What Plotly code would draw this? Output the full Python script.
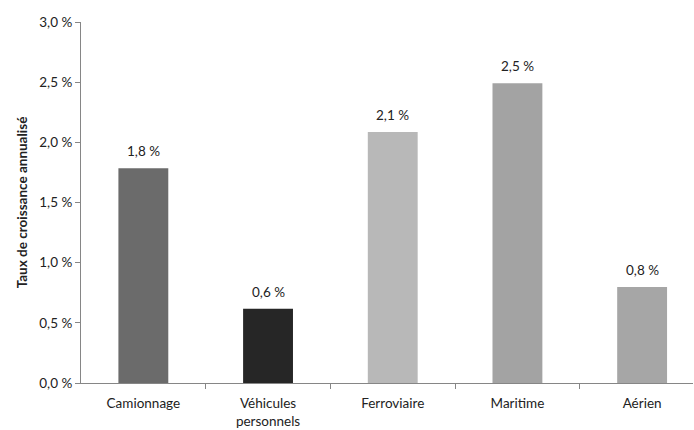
import plotly.graph_objects as go

categories = ["Camionnage", "Véhicules<br>personnels", "Ferroviaire", "Maritime", "Aérien"]
values = [1.785, 0.618, 2.086, 2.491, 0.798]
value_labels = ["1,8 %", "0,6 %", "2,1 %", "2,5 %", "0,8 %"]
colors = ["#6b6b6b", "#262626", "#b8b8b8", "#a3a3a3", "#a6a6a6"]
y_tickvals = [0, 0.5, 1.0, 1.5, 2.0, 2.5, 3.0]
y_ticktext = ["0,0 %", "0,5 %", "1,0 %", "1,5 %", "2,0 %", "2,5 %", "3,0 %"]

font = "Lato, Open Sans, sans-serif"
fsize = 13.5

xs = list(range(len(categories)))
fig = go.Figure(go.Bar(
    x=xs,
    y=values,
    width=0.4,
    marker=dict(color=colors, line=dict(width=0)),
    hoverinfo="skip",
))

for x, v, t in zip(xs, values, value_labels):
    fig.add_annotation(x=x, y=v, text=t, showarrow=False, yanchor="bottom",
                       yshift=7, font=dict(family=font, size=fsize, color="#222"))

fig.update_layout(
    width=694, height=430,
    margin=dict(l=81, r=1, t=22, b=47),
    paper_bgcolor="white", plot_bgcolor="white",
    showlegend=False,
    font=dict(family=font, size=fsize, color="#222"),
)
fig.update_xaxes(
    range=[-0.5, 4.408],
    tickvals=xs,
    ticktext=categories,
    showline=True, linecolor="#868686", linewidth=1,
    showgrid=False, zeroline=False,
    ticks="", tickfont=dict(family=font, size=fsize, color="#222"),
    ticklabelstandoff=8,
    automargin=False,
    minor=dict(tickvals=[0.5, 1.5, 2.5, 3.5], ticks="outside", ticklen=5, tickcolor="#868686", showgrid=False),
)
fig.update_yaxes(
    range=[0, 3.0],
    tickvals=y_tickvals, ticktext=y_ticktext,
    showline=True, linecolor="#868686", linewidth=1,
    showgrid=False, zeroline=False,
    ticks="outside", ticklen=5, tickcolor="#868686",
    tickfont=dict(family=font, size=fsize, color="#222"),
    automargin=False,
    title=dict(text="<b>Taux de croissance annualisé</b>", font=dict(family=font, size=fsize, color="#222"), standoff=8),
)

fig.write_html("out.html")
